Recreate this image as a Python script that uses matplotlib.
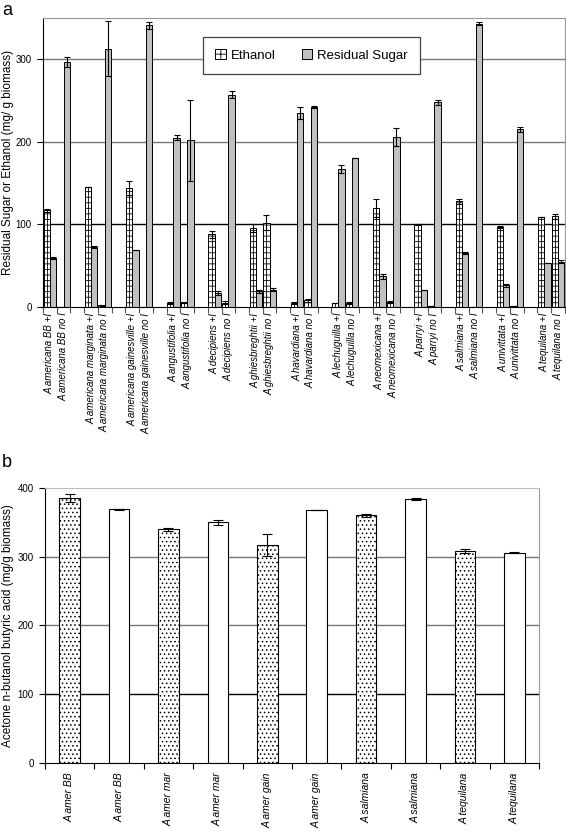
import numpy as np
import matplotlib
matplotlib.use("Agg")
import matplotlib.pyplot as plt
from matplotlib.patches import Patch

# panel a: ethanol / residual sugar per species, with (+I) and without (no I)
species = ["A americana BB", "A americana marginata", "A americana gainesville",
           "A angustifolia", "A decipiens", "A ghiesbreghtii", "A havardiana",
           "A lechuguilla", "A neomexicana", "A parryi", "A salmiana",
           "A univittata", "A tequilana"]
conditions = ["+I", "no I"]

ethanol_plus = [117, 145, 144, 5, 88, 96, 5, 5, 120, 100, 128, 97, 109]
ethanol_plus_err = [2, 0, 8, 1.5, 4, 5, 1, 0, 11, 0.5, 3, 1, 0]
sugar_plus = [59, 73, 69, 205, 17, 19, 235, 167, 37, 21, 65, 26, 53]
sugar_plus_err = [1, 1, 0, 3, 2, 2, 7, 5, 3, 0, 1, 2, 0]

ethanol_no = [0.5, 2, 0.5, 5.5, 5, 102, 8, 5, 6, 1, 0.5, 1.5, 110]
ethanol_no_err = [0, 0.5, 0, 1, 2, 9, 2, 1, 1, 0, 0, 0, 3]
sugar_no = [297, 313, 341, 202, 257, 21, 242, 180, 206, 248, 343, 215, 55]
sugar_no_err = [6, 33, 4, 49, 4, 2, 1, 0, 11, 3, 2, 3, 2]

# panel b: ABE yield
abe_labels = ["A amer BB", "A amer BB", "A amer mar", "A amer mar", "A amer gain",
              "A amer gain", "A salmiana", "A salmiana", "A tequilana", "A tequilana"]
abe_values = [385, 369, 340, 350, 317, 368, 360, 384, 308, 306]
abe_err = [6, 1, 2, 4, 16, 0, 2, 1, 3, 0.5]

plt.rcParams["font.family"] = ["Liberation Sans", "DejaVu Sans"]
plt.rcParams["hatch.linewidth"] = 0.6

grid_colors = {100: "black", 200: "#777777", 300: "#777777"}

fig = plt.figure(figsize=(5.66, 8.38), dpi=100)
ax1 = fig.add_axes([0.076, 0.6337, 0.922, 0.3448])
ax2 = fig.add_axes([0.0795, 0.0895, 0.8728, 0.3282])

# ---- panel a ----
n = len(species)
centers_plus = np.arange(n) * 3 + 0.5
centers_no = centers_plus + 1
w = 0.46
err_kw = dict(ecolor="black", elinewidth=0.8, capsize=2.2, capthick=0.8, zorder=4)

for centers, eth, eth_e, sug, sug_e in [
        (centers_plus, ethanol_plus, ethanol_plus_err, sugar_plus, sugar_plus_err),
        (centers_no, ethanol_no, ethanol_no_err, sugar_no, sugar_no_err)]:
    ax1.bar(centers - w / 2, eth, w, yerr=eth_e, color="white", edgecolor="black",
            hatch="---", linewidth=0.7, error_kw=err_kw, zorder=2)
    ax1.vlines(centers - w / 2, 0, eth, color="black", linewidth=0.6, zorder=3)
    ax1.bar(centers + w / 2, sug, w, yerr=sug_e, color="#c0c0c0", edgecolor="black",
            linewidth=0.7, error_kw=err_kw, zorder=2)

for v, c in grid_colors.items():
    ax1.axhline(v, color=c, linewidth=1.0, zorder=0)

ax1.set_xlim(0, 3 * n - 1)
ax1.set_ylim(0, 350)
ax1.set_yticks([0, 100, 200, 300])
ax1.tick_params(axis="y", labelsize=7, length=4, pad=4)

tick_pos = np.concatenate([centers_plus, centers_no])
tick_lab = [s + " " + conditions[0] for s in species] + [s + " " + conditions[1] for s in species]
ax1.set_xticks(tick_pos)
ax1.set_xticklabels(tick_lab, rotation=90, ha="center", va="top", style="italic",
                    fontsize=7, family=["Liberation Sans Narrow", "Liberation Sans"])
ax1.set_xticks(np.arange(0, 3 * n), minor=True)
ax1.tick_params(axis="x", which="major", length=0, pad=4)
ax1.tick_params(axis="x", which="minor", length=4, width=0.8, color="#555555")

ax1.spines["top"].set_color("#999999")
ax1.spines["right"].set_color("#999999")
ax1.set_ylabel("Residual Sugar or Ethanol (mg/ g biomass)", fontsize=8.5)
ax1.yaxis.set_label_coords(-0.055, 0.5)

handles = [Patch(facecolor="white", edgecolor="black", hatch="++", linewidth=0.7, label="Ethanol"),
           Patch(facecolor="#c0c0c0", edgecolor="black", linewidth=0.7, label="Residual Sugar")]
leg = ax1.legend(handles=handles, loc="upper left", bbox_to_anchor=(0.306, 0.935), ncol=2,
                 fontsize=9.5, frameon=True, fancybox=False, framealpha=1,
                 handlelength=0.8, handleheight=0.8, handletextpad=0.35,
                 columnspacing=2.0, borderpad=0.95, borderaxespad=0)
leg.get_frame().set_edgecolor("#444444")
leg.get_frame().set_linewidth(0.9)

# ---- panel b ----
m = len(abe_values)
xb = np.arange(m) + 0.5
hatches = ["...." if i % 2 == 0 else "" for i in range(m)]
for i in range(m):
    ax2.bar(xb[i], abe_values[i], 0.42, yerr=abe_err[i], color="white", edgecolor="black",
            hatch=hatches[i], linewidth=0.8, zorder=2,
            error_kw=dict(ecolor="black", elinewidth=0.8, capsize=3.5, capthick=0.8, zorder=4))

for v, c in grid_colors.items():
    ax2.axhline(v, color=c, linewidth=1.0, zorder=0)

ax2.set_xlim(0, m)
ax2.set_ylim(0, 400)
ax2.set_yticks([0, 100, 200, 300, 400])
ax2.tick_params(axis="y", labelsize=7, length=4, pad=4)
ax2.set_xticks(xb)
ax2.set_xticklabels(abe_labels, rotation=90, ha="center", va="top", style="italic", fontsize=7.5)
ax2.set_xticks(np.arange(0, m + 1), minor=True)
ax2.tick_params(axis="x", which="major", length=0, pad=7)
ax2.tick_params(axis="x", which="minor", length=4, width=0.8)
ax2.spines["top"].set_color("#bbbbbb")
ax2.spines["right"].set_color("#999999")
ax2.set_ylabel("Acetone n-butanol butyric acid (mg/g biomass)", fontsize=8.5)
ax2.yaxis.set_label_coords(-0.063, 0.5)

fig.text(0.004, 0.998, "a", fontsize=13, va="top", ha="left")
fig.text(0.004, 0.458, "b", fontsize=13, va="top", ha="left")

fig.savefig("out.png", dpi=100)
